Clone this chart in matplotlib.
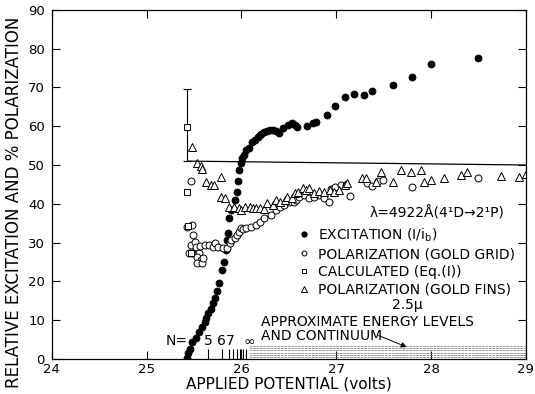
import matplotlib
matplotlib.use("Agg")
import matplotlib.pyplot as plt
from matplotlib.lines import Line2D

# excitation (I/ib), filled circles
exc_v = [25.43, 25.44, 25.46, 25.48, 25.52, 25.55, 25.58, 25.61, 25.63, 25.65,
         25.68, 25.70, 25.72, 25.74, 25.76, 25.79, 25.82, 25.84, 25.85, 25.86,
         25.87, 25.89, 25.93, 25.95, 25.96, 25.97, 26.00, 26.01, 26.03, 26.05,
         26.08, 26.11, 26.14, 26.17, 26.19, 26.21, 26.24, 26.27, 26.30, 26.33,
         26.36, 26.40, 26.44, 26.49, 26.53, 26.56, 26.59, 26.69, 26.75, 26.79,
         26.90, 26.99, 27.09, 27.19, 27.29, 27.38, 27.60, 27.80, 28.00, 28.49]
exc_y = [0.2, 1.5, 2.5, 4.4, 5.4, 7.0, 8.2, 9.5, 10.5, 11.8,
         13.0, 14.5, 15.6, 17.5, 19.5, 23.0, 25.0, 28.0, 30.6, 32.5,
         36.3, 38.4, 41.0, 43.0, 46.0, 48.7, 50.5, 51.8, 52.6, 53.9,
         54.5, 56.0, 56.5, 57.2, 57.7, 58.0, 58.5, 58.7, 59.0, 59.0,
         58.8, 58.2, 59.5, 60.3, 60.8, 60.3, 59.8, 60.1, 60.8, 61.0,
         62.9, 65.2, 67.5, 68.3, 68.0, 69.1, 70.6, 72.7, 76.0, 77.6]

# polarization, gold grid (open circles)
grid_v = [25.47, 25.43, 25.48, 25.49, 25.47, 25.51, 25.45, 25.48, 25.52, 25.55,
          25.53, 25.57, 25.53, 25.58, 25.59, 25.56, 25.61, 25.66, 25.70, 25.72,
          25.75, 25.80, 25.85, 25.88, 25.89, 25.93, 25.95, 25.97, 26.00, 26.02,
          26.05, 26.10, 26.15, 26.20, 26.24, 26.31, 26.36, 26.41, 26.45, 26.50,
          26.55, 26.58, 26.61, 26.66, 26.71, 26.76, 26.82, 26.87, 26.92, 26.94,
          26.99, 27.05, 27.10, 27.14, 27.32, 27.38, 27.44, 27.49, 27.80, 28.49]
grid_y = [46.0, 34.0, 34.5, 32.0, 29.4, 30.2, 27.3, 27.3, 28.9, 27.3,
          26.3, 25.5, 24.7, 24.7, 26.0, 29.0, 29.4, 29.4, 28.9, 29.9,
          28.9, 28.6, 28.6, 29.8, 30.7, 31.2, 32.0, 32.6, 33.8, 33.5,
          33.8, 34.0, 34.5, 35.3, 36.3, 37.0, 38.4, 39.2, 39.7, 40.5,
          40.5, 41.0, 41.8, 42.3, 41.5, 41.8, 42.3, 41.5, 40.5, 43.8,
          44.3, 44.8, 44.8, 42.0, 45.4, 44.6, 45.9, 46.1, 44.3, 46.6]

# calculated (Eq.(1)), open squares; first point carries the error bar
calc_v = [25.43, 25.43, 25.44, 25.47]
calc_y = [59.8, 43.0, 34.3, 27.3]
calc_err_lo = 8.8
calc_err_hi = 9.7

# polarization, gold fins (open triangles)
fins_v = [25.48, 25.53, 25.57, 25.58, 25.63, 25.68, 25.71, 25.78, 25.78, 25.83,
          25.87, 25.92, 25.97, 26.00, 26.04, 26.09, 26.12, 26.15, 26.19, 26.24,
          26.27, 26.33, 26.36, 26.41, 26.46, 26.48, 26.53, 26.56, 26.60, 26.65,
          26.68, 26.71, 26.76, 26.82, 26.87, 26.93, 26.98, 27.03, 27.09, 27.11,
          27.27, 27.31, 27.42, 27.47, 27.60, 27.68, 27.79, 27.89, 27.93, 28.00,
          28.14, 28.32, 28.38, 28.74, 28.93, 29.00]
fins_y = [54.6, 50.5, 49.7, 49.0, 45.6, 44.8, 44.8, 46.9, 41.8, 41.5,
          39.2, 39.2, 38.9, 38.4, 39.2, 39.2, 39.0, 39.0, 39.0, 38.7,
          40.2, 39.7, 41.0, 40.5, 41.0, 41.8, 41.5, 42.8, 43.0, 44.0,
          43.6, 44.0, 42.8, 43.2, 43.0, 43.6, 43.0, 43.6, 44.8, 45.4,
          46.6, 46.6, 45.6, 48.2, 45.6, 48.7, 48.2, 48.7, 45.6, 46.1,
          46.6, 47.4, 48.2, 47.2, 46.9, 47.7]

# reference line drawn from the calculated point
ref_v = [25.43, 29.0]
ref_y = [51.0, 50.0]

# approximate energy levels and continuum
level_v = [25.65, 25.79, 25.87, 25.91, 25.95, 25.98, 26.00, 26.02, 26.05]
level_names = ["5", "6", "7", "\u221e"]
level_name_v = [25.65, 25.79, 25.88, 26.08]
cont_start = 26.08
cont_rows = [0.4, 1.0, 1.6, 2.2, 2.8, 3.4]

plt.rcParams['font.family'] = ['DejaVu Sans']
fig = plt.figure(figsize=(5.35, 3.94), dpi=100)
ax = fig.add_axes([0.097, 0.089, 0.886, 0.886])

ax.plot(exc_v, exc_y, 'o', color='black', ms=5.0, mew=0.6, ls='none')
ax.plot(grid_v, grid_y, 'o', mfc='white', mec='black', ms=5.0, mew=0.7, ls='none')
ax.plot(fins_v, fins_y, '^', mfc='white', mec='black', ms=5.5, mew=0.7, ls='none')
ax.plot(ref_v, ref_y, '-', color='black', lw=0.9)
ax.errorbar(calc_v[:1], calc_y[:1], yerr=[[calc_err_lo], [calc_err_hi]],
            fmt='none', ecolor='black', elinewidth=0.8, capsize=3, capthick=0.8)
ax.plot(calc_v, calc_y, 's', mfc='white', mec='black', ms=4.5, mew=0.7, ls='none')

# energy level marks
ax.vlines(level_v, 0, 2.6, color='black', lw=0.8)
ax.hlines(cont_rows, cont_start, 29.0, color='0.45', lw=0.5, linestyles=(0, (4, 1)))
for name, v in zip(level_names, level_name_v):
    ax.text(v, 4.5, name, ha='center', va='center', fontsize=10)
ax.text(25.32, 4.5, "N=", ha='center', va='center', fontsize=10)
ax.text(26.21, 9.5, "APPROXIMATE ENERGY LEVELS", ha='left', va='center', fontsize=10)
ax.text(26.21, 5.9, "AND CONTINUUM", ha='left', va='center', fontsize=10)
ax.annotate("", xy=(27.77, 2.8), xytext=(27.42, 6.3),
            arrowprops=dict(arrowstyle='-|>', color='black', lw=0.7,
                            mutation_scale=8))

ax.text(27.35, 37.6, "\u03bb=4922\u00c5(4\u00b9D\u21922\u00b9P)", ha='left', va='center',
        fontsize=10)
handles = [
    Line2D([], [], marker='o', color='black', ls='none', ms=3.5),
    Line2D([], [], marker='o', mfc='white', mec='black', ls='none', ms=3.5, mew=0.7),
    Line2D([], [], marker='s', mfc='white', mec='black', ls='none', ms=3.2, mew=0.7),
    Line2D([], [], marker='^', mfc='white', mec='black', ls='none', ms=3.8, mew=0.7),
]
labels = ["EXCITATION (I/i$_\\mathrm{b}$)", "POLARIZATION (GOLD GRID)",
          "CALCULATED (Eq.(I))", "POLARIZATION (GOLD FINS)"]
ax.legend(handles, labels, loc='upper left', bbox_to_anchor=(0.515, 0.388),
          frameon=False, fontsize=10, handlelength=0.8, handletextpad=0.6,
          labelspacing=0.26, borderpad=0.2, borderaxespad=0.0)
ax.text(27.75, 14.0, "2.5\u03bc", ha='center', va='center', fontsize=10)

ax.set_xlim(24, 29)
ax.set_ylim(0, 90)
ax.set_xticks([24, 25, 26, 27, 28, 29])
ax.set_yticks(range(0, 91, 10))
ax.tick_params(direction='in', top=True, right=True, length=6, width=0.8,
               labelsize=9.5)
ax.tick_params(axis='x', pad=3)
ax.tick_params(axis='y', pad=5)
for s in ax.spines.values():
    s.set_linewidth(0.9)
ax.set_xlabel("APPLIED POTENTIAL (volts)", fontsize=11)
ax.set_ylabel("RELATIVE EXCITATION AND % POLARIZATION", fontsize=12)
ax.xaxis.set_label_coords(0.5, -0.05)
ax.yaxis.set_label_coords(-0.06, 0.45)

fig.savefig("out.png", dpi=100)
